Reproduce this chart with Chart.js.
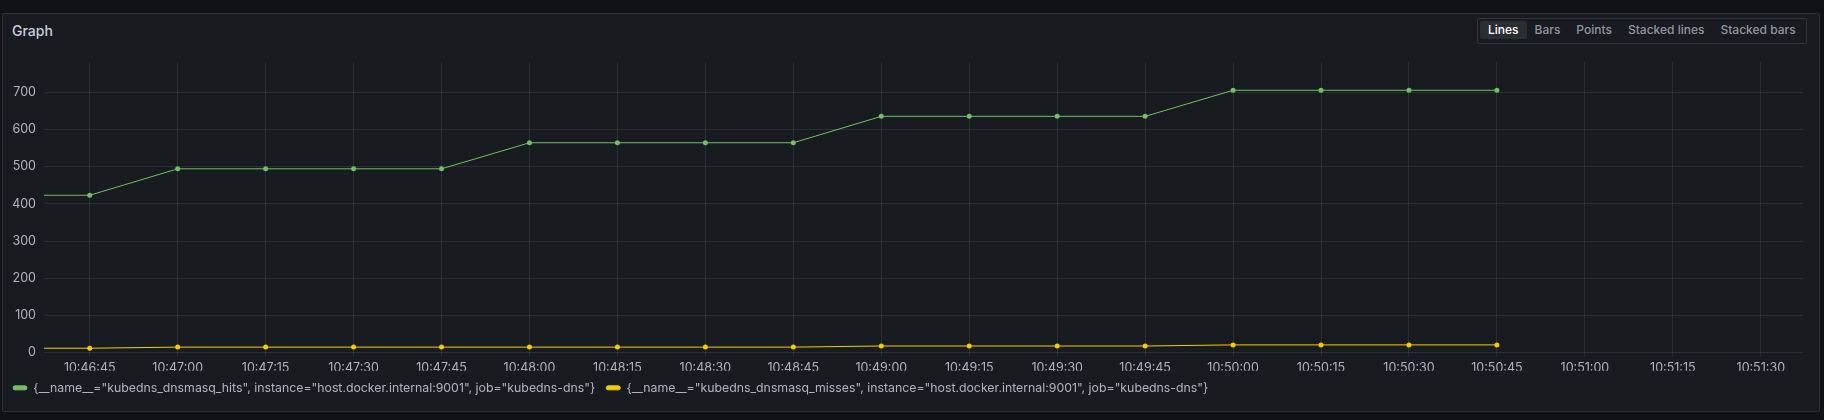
<!DOCTYPE html>
<html>
<head>
<meta charset="utf-8">
<script src="https://cdn.jsdelivr.net/npm/chart.js@4/dist/chart.umd.min.js"></script>
<style>
  html, body { margin: 0; padding: 0; background: #111217; width: 1824px; height: 420px; overflow: hidden; font-family: Inter, "Noto Sans", sans-serif; }
  #panel { position: absolute; left: 2px; top: 13px; width: 1816px; height: 397px; background: #181b1f; border: 1px solid rgba(204,204,220,0.12); border-radius: 2px; }
  #title { position: absolute; left: 9px; top: 8px; font-size: 14px; font-weight: 500; color: #ccccdc; line-height: 18px; }
  #btns { position: absolute; left: 1474px; top: 4px; height: 22px; display: flex; padding: 1px 2px; border: 1px solid rgba(204,204,220,0.15); border-radius: 2px; }
  #btns div { padding: 0 8px; font-size: 12px; line-height: 18px; height: 18px; margin-top: 1px; color: rgba(204,204,220,0.7); font-weight: 500; }
  #btns div.active { background: rgba(204,204,220,0.1); color: #ffffff; border-radius: 2px; }
  #wrap { position: absolute; left: 2px; top: 40px; width: 1816px; height: 364px; }
</style>
</head>
<body>
<div id="panel">
  <div id="title">Graph</div>
  <div id="btns"><div class="active">Lines</div><div>Bars</div><div>Points</div><div>Stacked lines</div><div>Stacked bars</div></div>
</div>
<div id="wrap"><canvas id="c" width="1816" height="364"></canvas></div>
<script>
const times = ["10:46:30","10:46:45","10:47:00","10:47:15","10:47:30","10:47:45","10:48:00","10:48:15","10:48:30","10:48:45","10:49:00","10:49:15","10:49:30","10:49:45","10:50:00","10:50:15","10:50:30","10:50:45"];
const hits = [423,423,494,494,494,494,564,564,564,564,635,635,635,635,705,705,705,705];
const misses = [12,12,15,15,15,15,15,15,15,15,18,18,18,18,21,21,21,21];
const xTickLabels = ["10:46:45","10:47:00","10:47:15","10:47:30","10:47:45","10:48:00","10:48:15","10:48:30","10:48:45","10:49:00","10:49:15","10:49:30","10:49:45","10:50:00","10:50:15","10:50:30","10:50:45","10:51:00","10:51:15","10:51:30"];
const yTicks = [0,100,200,300,400,500,600,700];
const seriesNames = ['{__name__="kubedns_dnsmasq_hits", instance="host.docker.internal:9001", job="kubedns-dns"}',
                     '{__name__="kubedns_dnsmasq_misses", instance="host.docker.internal:9001", job="kubedns-dns"}'];
const xMin = "10:46:37.2", xMax = "10:51:37.2";

function toSec(s){ const p = s.split(':').map(Number); return p[0]*3600 + p[1]*60 + p[2]; }
function fmt(v){ v = Math.round(v); const h = Math.floor(v/3600), m = Math.floor(v%3600/60), s = v%60; const z = n => String(n).padStart(2,'0'); return z(h)+':'+z(m)+':'+z(s); }

const GREEN = '#73bf69', YELLOW = '#f2cc0c';
const txt = 'rgba(204,204,220,0.85)';
const grid = 'rgba(204,204,220,0.11)';

new Chart(document.getElementById('c'), {
  type: 'line',
  data: {
    datasets: [
      { label: seriesNames[0], data: times.map((t,i)=>({x:toSec(t), y:hits[i]})), borderColor: GREEN, backgroundColor: GREEN, borderWidth: 1, pointRadius: 2.5, pointBorderWidth: 0, tension: 0 },
      { label: seriesNames[1], data: times.map((t,i)=>({x:toSec(t), y:misses[i]})), borderColor: YELLOW, backgroundColor: YELLOW, borderWidth: 1, pointRadius: 2.5, pointBorderWidth: 0, tension: 0 }
    ]
  },
  options: {
    responsive: false,
    animation: false,
    events: [],
    layout: { padding: { left: 0, right: 15, top: 22, bottom: 0 } },
    scales: {
      x: {
        type: 'linear',
        min: toSec(xMin), max: toSec(xMax),
        afterBuildTicks: s => { s.ticks = xTickLabels.map(l => ({ value: toSec(l) })); },
        afterFit: s => { s.height = 18; },
        ticks: { callback: v => fmt(v), color: txt, font: { family: 'Inter', size: 12.5 }, padding: 4, maxRotation: 0, autoSkip: false },
        grid: { color: grid, tickLength: 4, drawTicks: true, tickColor: grid },
        border: { display: false }
      },
      y: {
        min: 0, max: 781,
        afterBuildTicks: s => { s.ticks = yTicks.map(v => ({ value: v })); },
        afterFit: s => { s.width = 42; },
        ticks: { color: txt, font: { family: 'Inter', size: 12.5 }, padding: 8 },
        grid: { color: grid, drawTicks: false },
        border: { display: false }
      }
    },
    plugins: {
      legend: {
        position: 'bottom', align: 'start',
        labels: { color: txt, font: { family: 'Inter', size: 12.3 }, boxWidth: 14, boxHeight: 4, padding: 11, useBorderRadius: true, borderRadius: 2 }
      },
      tooltip: { enabled: false }
    }
  }
});
</script>
</body>
</html>
